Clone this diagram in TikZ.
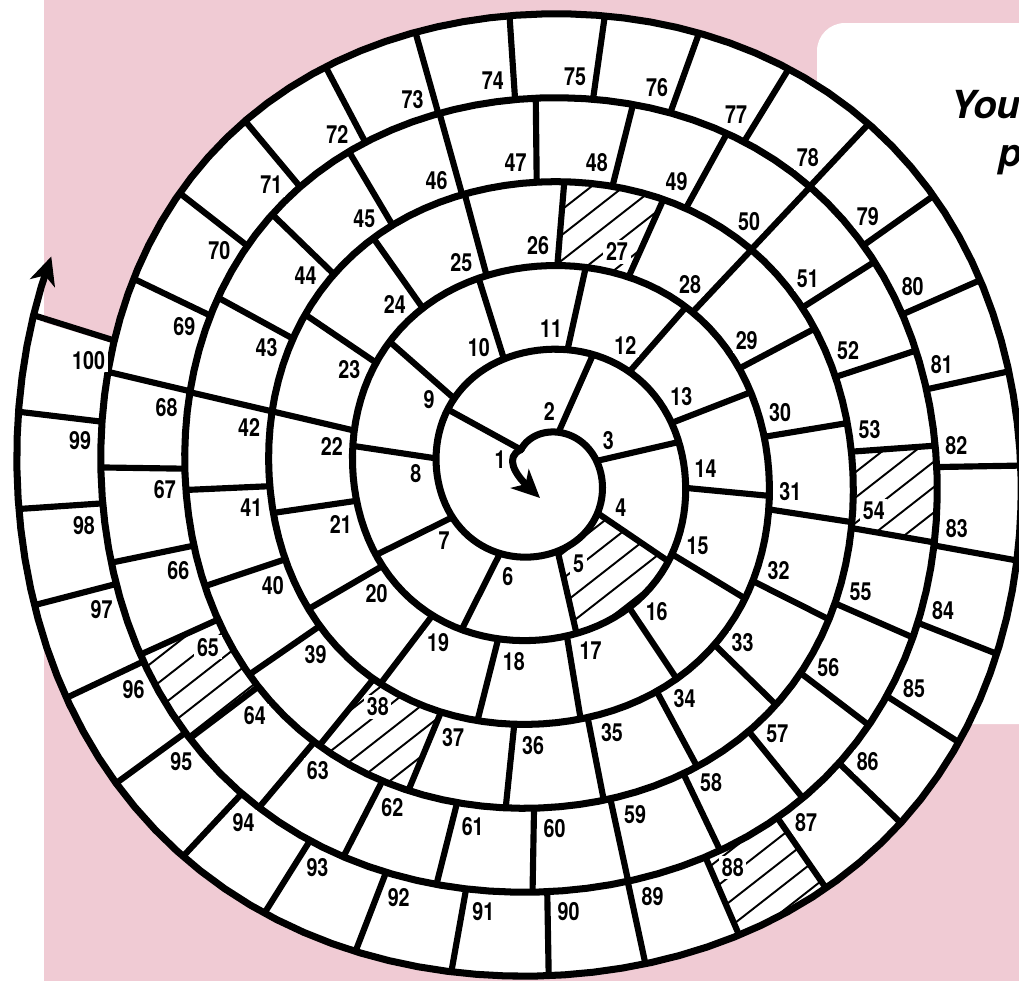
\documentclass[tikz,border=0pt]{standalone}
\usepackage{fontspec}
\usetikzlibrary{arrows.meta}
\newfontfamily\squarefont[FakeStretch=0.79]{TeX Gyre Heros}
\newfontfamily\notefont{TeX Gyre Heros}
\definecolor{boardpink}{RGB}{240,203,212}
\tikzset{
  wall/.style={line width=4pt, line cap=round, line join=round},
  divider/.style={line width=3.5pt},
  hatchline/.style={line width=1.1pt},
  sqlabel/.style={font=\squarefont\bfseries\fontsize{14.2pt}{15pt}\selectfont, fill=white, inner sep=1.5pt},
  notetext/.style={font=\notefont\bfseries\itshape\fontsize{22pt}{26pt}\selectfont, anchor=base west, inner sep=0pt},
  spiralarrow/.style={-{Stealth[length=0.56cm,width=0.52cm,inset=0.16cm]}}
}

\begin{document}
\begin{tikzpicture}[x=0.02cm, y=-0.02cm,
  declare function={sr(\t)=40+0.23333*\t+0.0055*\t*sin(2*\t)*sin(2*\t);
    phin(\m)=(-82+10*sqrt(67.24+0.26738*(-51.44+(\m-1)*86.87)))/0.233333;
    phic(\m)=phin(\m)-4.7*sin(90*min(1,max(0,(\m-8)/40)))*min(1,(100-\m)/15);}]
  \useasboundingbox (0,0) rectangle (1019,981);
  \fill[boardpink] (44,0) rectangle (1019,981);
  \fill[white, rounded corners=0.56cm] (817,23) rectangle (1100,724);
  \node[notetext] (you) at (950,118) {You};
  \node[notetext] (pline) at (998,166) {p};

  \begin{scope}[shift={(540,474)}]
    % board
    \fill[white] plot[domain=1727:2087, samples=160] (\x-90:{sr(\x)}) -- cycle;
    % hatched squares
    \foreach \n in {5,27,38,54,65,88} {
      \pgfmathsetmacro\phA{phic(\n-1)}
      \pgfmathsetmacro\phB{phic(\n)}
      \pgfmathsetmacro\phM{(\phA+\phB)/2}
      \begin{scope}
        \clip plot[domain=\phA:\phB, samples=12] (\x-90:{sr(\x)})
          -- plot[domain=\phA:\phB, samples=12] (\phA+\phB+270-\x:{sr(\phA+\phB+360-\x)}) -- cycle;
        \foreach \k in {-6,...,6}
          \draw[hatchline, shift={(\phM-90:{sr(\phM)+42})}, rotate=38] (-130,\k*20) -- (130,\k*20);
      \end{scope}
    }
    % dividers
    \draw[divider] (-128:{sr(-38)}) -- (215:{sr(305)});
    \foreach \n in {2,...,100} {
      \pgfmathsetmacro\phA{phic(\n)}
      \pgfmathsetmacro\phC{\phA+360}
      \draw[divider] (\phA-90:{sr(\phA)}) -- (\phC-90:{sr(\phC)});
    }
    % spiral wall and start curl
    \draw[wall, spiralarrow] plot[domain=-38:2094, samples=640] (\x-90:{sr(\x)});
    \draw[wall, spiralarrow] (-128:{sr(-38)}) .. controls (-36,-17) and (-24,1) .. (0,24);
    % numbers
    \node[sqlabel] (sq1) at (-40,-14) {1};
    \foreach \n in {2,...,100} {
      \pgfmathsetmacro\phA{phic(\n)}
      \pgfmathsetmacro\lbloff{\n<10 ? 18 : (\n<100 ? 21 : 27)}
      \pgfmathsetmacro\phL{\phA-\lbloff/(sr(\phA)+21)*57.2958}
      \node[sqlabel] (sq\n) at (\phL-90:{sr(\phL)+21}) {\n};
    }
  \end{scope}
\end{tikzpicture}
\end{document}
